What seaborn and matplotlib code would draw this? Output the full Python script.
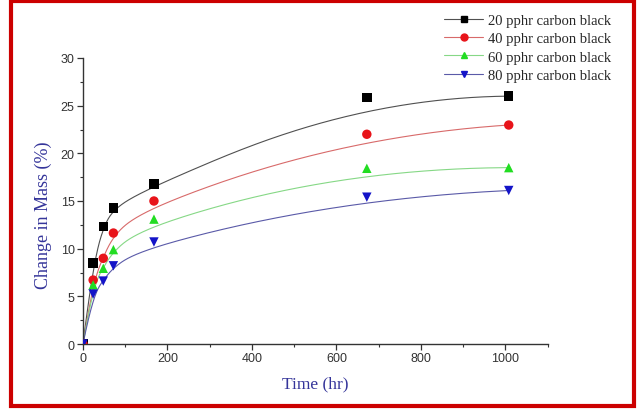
import numpy as np
import pandas as pd
import matplotlib
matplotlib.use("Agg")
import matplotlib.pyplot as plt
from matplotlib.lines import Line2D
from matplotlib.patches import Rectangle
from matplotlib.ticker import MultipleLocator
import seaborn as sns

# ---- data ----
time_hr = [0, 24, 48, 72, 168, 672, 1008]
series_names = ["20 pphr carbon black", "40 pphr carbon black",
                "60 pphr carbon black", "80 pphr carbon black"]
mass_20 = [0, 8.5, 12.35, 14.27, 16.78, 25.84, 26.0]
mass_40 = [0, 6.71, 8.99, 11.64, 15.0, 22.0, 22.97]
mass_60 = [0, 6.2, 7.94, 9.9, 13.1, 18.43, 18.5]
mass_80 = [0, 5.24, 6.6, 8.2, 10.7, 15.4, 16.1]
all_mass = [mass_20, mass_40, mass_60, mass_80]

xticks = [0, 200, 400, 600, 800, 1000]
yticks = [0, 5, 10, 15, 20, 25, 30]

# ---- styles ----
marker_colors = ["#000000", "#e8141a", "#22dd22", "#1414c8"]
line_colors = ["#505050", "#d86a6a", "#86d886", "#5a5aa8"]
markers = ["s", "o", "^", "v"]
label_color = "#35359a"


def bspline(ctrl_x, ctrl_y, degree=3, n=400):
    """Clamped uniform B-spline using the data points as control points."""
    P = np.column_stack([ctrl_x, ctrl_y]).astype(float)
    m = len(P)
    inner = np.linspace(0, 1, m - degree + 1)[1:-1]
    knots = np.concatenate([np.zeros(degree + 1), inner, np.ones(degree + 1)])
    t = np.linspace(0, 1, n)
    t[-1] = 1 - 1e-12
    N = np.zeros((n, len(knots) - 1))
    for i in range(len(knots) - 1):
        N[:, i] = np.where((t >= knots[i]) & (t < knots[i + 1]), 1.0, 0.0)
    for k in range(1, degree + 1):
        Nn = np.zeros((n, len(knots) - 1 - k))
        for i in range(len(knots) - 1 - k):
            a = np.zeros(n)
            b = np.zeros(n)
            d1 = knots[i + k] - knots[i]
            d2 = knots[i + k + 1] - knots[i + 1]
            if d1 > 0:
                a = (t - knots[i]) / d1 * N[:, i]
            if d2 > 0:
                b = (knots[i + k + 1] - t) / d2 * N[:, i + 1]
            Nn[:, i] = a + b
        N = Nn
    C = N @ P
    return C[:, 0], C[:, 1]


# long-form tables
pts = pd.DataFrame({
    "time": np.tile(time_hr, len(series_names)),
    "mass": np.concatenate(all_mass),
    "series": np.repeat(series_names, len(time_hr)),
})
curve_frames = []
for name, ys in zip(series_names, all_mass):
    cx, cy = bspline(time_hr, ys)
    curve_frames.append(pd.DataFrame({"time": cx, "mass": cy, "series": name}))
curves = pd.concat(curve_frames, ignore_index=True)

sns.set_style("ticks")
plt.rcParams["font.family"] = ["Liberation Sans", "DejaVu Sans"]

fig = plt.figure(figsize=(6.39, 4.14), dpi=100)
ax = fig.add_axes([83 / 639, 1 - 345 / 414, (547.6 - 83) / 639, (345 - 59) / 414])

sns.lineplot(data=curves, x="time", y="mass", hue="series", sort=False,
             estimator=None,
             palette=dict(zip(series_names, line_colors)), linewidth=0.8,
             legend=False, ax=ax)
sns.scatterplot(data=pts, x="time", y="mass", hue="series", style="series",
                palette=dict(zip(series_names, marker_colors)),
                markers=dict(zip(series_names, markers)),
                s=46, linewidth=0, legend=False, ax=ax, zorder=3)

ax.set_xlim(0, 1100)
ax.set_ylim(0, 30)
ax.set_xticks(xticks)
ax.set_yticks(yticks)
ax.xaxis.set_minor_locator(MultipleLocator(100))
ax.yaxis.set_minor_locator(MultipleLocator(2.5))
ax.tick_params(which="major", direction="out", length=4, width=0.9,
               color="#333333", labelsize=9, labelcolor="#333333", pad=2)
ax.tick_params(which="minor", direction="out", length=2.5, width=0.8, color="#333333")
for s in ["top", "right"]:
    ax.spines[s].set_visible(False)
for s in ["left", "bottom"]:
    ax.spines[s].set_color("#333333")
    ax.spines[s].set_linewidth(1.0)

ax.set_xlabel("Time (hr)", family=["Liberation Serif"], fontsize=12.5,
              color=label_color, labelpad=8)
ax.set_ylabel("Change in Mass (%)", family=["Liberation Serif"], fontsize=13,
              color=label_color)
ax.yaxis.set_label_coords((52 - 83) / (547.6 - 83), (345 - 215) / 286)

handles = [Line2D([], [], color=lc, lw=0.8, marker=mk, markerfacecolor=mc,
                  markeredgecolor=mc, markersize=5)
           for lc, mc, mk in zip(line_colors, marker_colors, markers)]
fig.legend(handles, series_names, loc="upper left",
           bbox_to_anchor=(441 / 639, 1 - 11.5 / 414), frameon=False,
           prop={"family": "Liberation Serif", "size": 10.5},
           handlelength=2.7, handletextpad=0.3, labelspacing=0.36,
           borderaxespad=0, borderpad=0.2)

fig.patches.append(Rectangle((11 / 639, 1 - 407 / 414), (634 - 11) / 639,
                             (407 - 1.5) / 414, transform=fig.transFigure,
                             fill=False, edgecolor="#cc0000", linewidth=3.0))

fig.savefig("out.png", dpi=100)
